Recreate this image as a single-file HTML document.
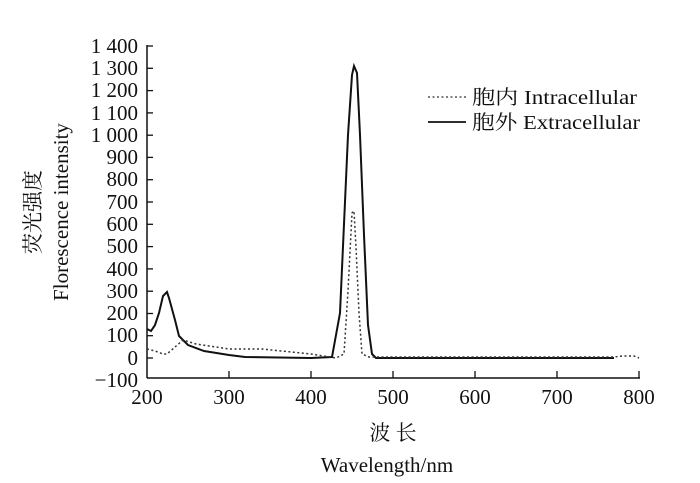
<!DOCTYPE html>
<html><head><meta charset="utf-8"><style>body{margin:0;background:#fff}</style></head><body>
<svg width="700" height="478" xmlns="http://www.w3.org/2000/svg" font-family="Liberation Serif, Noto Serif CJK SC, serif" fill="#111">
<g stroke="#111" stroke-width="1.5" fill="none">
<line x1="147" y1="45" x2="147" y2="378"/>
<line x1="147" y1="378" x2="640" y2="378"/>
</g>
<g stroke="#111" stroke-width="1.3">
<line x1="147" y1="46" x2="153" y2="46"/><line x1="147" y1="68.3" x2="153" y2="68.3"/><line x1="147" y1="90.6" x2="153" y2="90.6"/><line x1="147" y1="112.9" x2="153" y2="112.9"/><line x1="147" y1="135.2" x2="153" y2="135.2"/><line x1="147" y1="157.4" x2="153" y2="157.4"/><line x1="147" y1="179.7" x2="153" y2="179.7"/><line x1="147" y1="202" x2="153" y2="202"/><line x1="147" y1="224.3" x2="153" y2="224.3"/><line x1="147" y1="246.6" x2="153" y2="246.6"/><line x1="147" y1="268.9" x2="153" y2="268.9"/><line x1="147" y1="291.2" x2="153" y2="291.2"/><line x1="147" y1="313.5" x2="153" y2="313.5"/><line x1="147" y1="335.7" x2="153" y2="335.7"/><line x1="147" y1="358" x2="153" y2="358"/>
<line x1="229" y1="378" x2="229" y2="371"/><line x1="311" y1="378" x2="311" y2="371"/><line x1="393" y1="378" x2="393" y2="371"/><line x1="475" y1="378" x2="475" y2="371"/><line x1="557" y1="378" x2="557" y2="371"/><line x1="639" y1="378" x2="639" y2="371"/>
</g>
<g font-size="21" text-anchor="end">
<text x="138" y="53">1 400</text><text x="138" y="75">1 300</text><text x="138" y="97">1 200</text><text x="138" y="120">1 100</text><text x="138" y="142">1 000</text><text x="138" y="164">900</text><text x="138" y="186">800</text><text x="138" y="209">700</text><text x="138" y="231">600</text><text x="138" y="253">500</text><text x="138" y="276">400</text><text x="138" y="298">300</text><text x="138" y="320">200</text><text x="138" y="342">100</text><text x="138" y="365">0</text><text x="138" y="387">−100</text>
</g>
<g font-size="21" text-anchor="middle">
<text x="147" y="404">200</text><text x="229" y="404">300</text><text x="311" y="404">400</text><text x="393" y="404">500</text><text x="475" y="404">600</text><text x="557" y="404">700</text><text x="639" y="404">800</text>
<text x="393" y="440" font-size="21">波 长</text>
<text x="387" y="472">Wavelength/nm</text>
</g>
<text transform="translate(40,212) rotate(-90)" font-size="21" text-anchor="middle">荧光强度</text>
<text transform="translate(68,212) rotate(-90)" font-size="21" text-anchor="middle">Florescence intensity</text>
<line x1="428" y1="97" x2="466" y2="97" stroke="#333" stroke-width="1.3" stroke-dasharray="2,2.5"/>
<line x1="428" y1="122" x2="466" y2="122" stroke="#111" stroke-width="1.8"/>
<text x="472" y="104" font-size="20" textLength="165" lengthAdjust="spacingAndGlyphs">胞内 Intracellular</text>
<text x="472" y="129" font-size="20" textLength="168" lengthAdjust="spacingAndGlyphs">胞外 Extracellular</text>
<polyline fill="none" stroke="#111" stroke-width="2" points="147,329 151,331 155,325 159,313 163,296 167,292 169,298 175,320 179,336 188,345 204,351 229,355 245,357 311,358 332,357 340,313 344,224 348,135 352,75 354,66 357,73 360,135 364,235 368,325 372,354 376,358 614,358"/>
<polyline fill="none" stroke="#333" stroke-width="1.5" stroke-dasharray="2,2.5" points="147,349 155,351 163,354 167,354 175,347 183,340 196,344 229,349 262,349 311,354 336,358 344,354 348,291 352,213 354,211 356,247 359,313 362,354 369,357 426,357 614,357 622,356 634,356 639,358"/>
</svg>
</body></html>
